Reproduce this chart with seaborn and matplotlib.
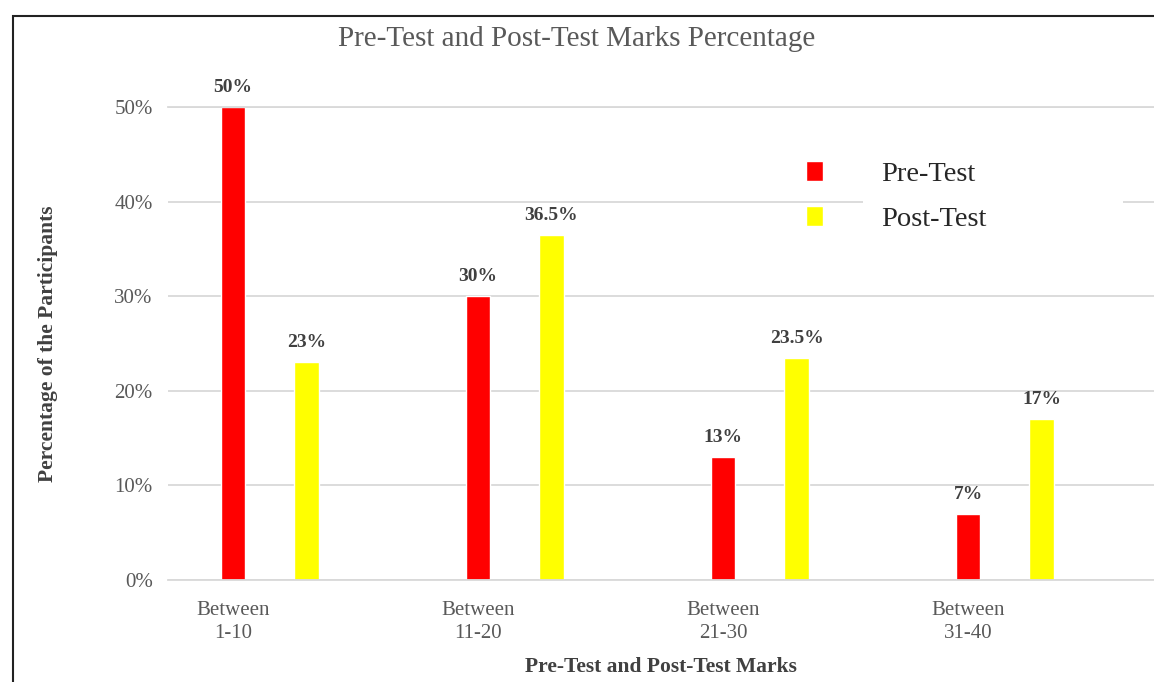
import pandas as pd
import seaborn as sns
import matplotlib.pyplot as plt
from matplotlib.ticker import PercentFormatter
from matplotlib.patches import Rectangle

# Data
categories = ["Between\n1-10", "Between\n11-20", "Between\n21-30", "Between\n31-40"]
series = ["Pre-Test", "Post-Test"]
pre_test = [50, 30, 13, 7]
post_test = [23, 36.5, 23.5, 17]
y_ticks = [0, 10, 20, 30, 40, 50]

df = pd.DataFrame({
    "marks": categories * 2,
    "test": [series[0]] * len(pre_test) + [series[1]] * len(post_test),
    "pct": pre_test + post_test,
})

sns.set_theme(style="white")
plt.rcParams["font.family"] = ["Liberation Serif", "DejaVu Serif"]

W, H = 1154, 682
fig = plt.figure(figsize=(W / 100, H / 100), dpi=100)
ax = fig.add_axes([168 / W, 1 - 580 / H, (W - 168) / W, (580 - 107) / H])

palette = {"Pre-Test": "#FF0000", "Post-Test": "#FFFF00"}
sns.barplot(data=df, x="marks", y="pct", hue="test", hue_order=series,
            palette=palette, saturation=1, width=0.6, gap=0.67, ax=ax)

ax.set_xlim(-0.415, 3.609)
ax.set_ylim(0, 50)
ax.set_yticks(y_ticks)
ax.yaxis.set_major_formatter(PercentFormatter(xmax=100, decimals=0))

# category labels sit under the red bars
centers = [p.get_x() + p.get_width() / 2 for p in ax.containers[0]]
ax.set_xticks(centers, categories)
for lbl in ax.get_xticklabels():
    lbl.set_linespacing(1.3)

# grid / spines
grid_col = "#d9d9d9"
ax.yaxis.grid(True, color=grid_col, lw=1.3)
ax.set_axisbelow(True)
for side in ["left", "right"]:
    ax.spines[side].set_visible(False)
for side in ["top", "bottom"]:
    ax.spines[side].set_color(grid_col)
    ax.spines[side].set_linewidth(1.3)

ax.tick_params(axis="both", length=0, labelsize=15, labelcolor="#595959")
ax.tick_params(axis="y", pad=11)
ax.tick_params(axis="x", pad=15)

# value labels
for cont in ax.containers:
    ax.bar_label(cont, fmt="{:g}%", padding=8, fontsize=14,
                 fontweight="bold", color="#404040")

ax.set_ylabel("Percentage of the Participants", fontsize=15.5,
              fontweight="bold", color="#404040")
ax.yaxis.set_label_coords(-0.112, 0.5)
ax.set_xlabel("Pre-Test and Post-Test Marks", fontsize=15.5,
              fontweight="bold", color="#404040")
ax.xaxis.set_label_coords(0.5, -0.162)

fig.text(0.5, 1 - 39 / H, "Pre-Test and Post-Test Marks Percentage",
         ha="center", va="center", fontsize=21, color="#595959")

# legend
handles, labels = ax.get_legend_handles_labels()
ax.legend(handles, labels, loc="center left",
          bbox_to_anchor=(806 / W, 1 - 196.5 / H), bbox_transform=fig.transFigure,
          frameon=False, fontsize=20.5, handlelength=0.6, handleheight=0.7,
          handletextpad=2.05, labelspacing=0.65, borderpad=0, borderaxespad=0)

# white patch behind the legend text hides a piece of the 40% gridline
ax.add_patch(Rectangle((863 / W, 1 - 212 / H), 260 / W, 22 / H,
                       transform=fig.transFigure, facecolor="white",
                       edgecolor="none", zorder=1.5))

# frame around the picture (left and top edges visible)
fig.add_artist(Rectangle((13 / W, -0.5), 2, 0.5 + (1 - 16 / H),
                         transform=fig.transFigure, fill=False,
                         edgecolor="#222222", lw=1.5, clip_on=False))

fig.savefig("out.png", dpi=100)
